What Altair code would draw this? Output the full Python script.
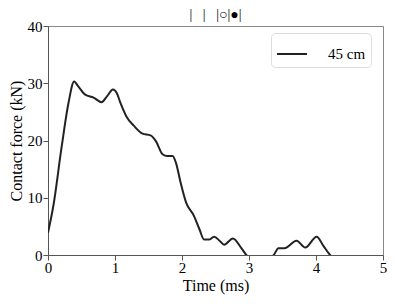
import altair as alt
import pandas as pd

time_ms = [0.0, 0.08, 0.205, 0.305, 0.39, 0.455, 0.555, 0.68, 0.8, 0.88, 0.97, 1.03, 1.08, 1.17,
           1.28, 1.41, 1.53, 1.61, 1.71, 1.78, 1.86, 1.91, 1.98, 2.06, 2.18, 2.26, 2.33, 2.41,
           2.48, 2.56, 2.63, 2.76, 2.88, 2.96, 3.15, 3.37, 3.44, 3.53, 3.71, 3.84, 4.01, 4.11,
           4.21, 4.4]
force_kn = [3.9, 8.6, 19.0, 26.5, 30.3, 29.4, 28.0, 27.5, 26.7, 27.7, 28.9, 28.2, 26.6, 24.2,
            22.6, 21.2, 20.9, 19.9, 17.6, 17.3, 17.3, 16.1, 12.6, 9.2, 6.8, 4.5, 2.7, 2.7,
            3.2, 2.5, 1.8, 2.9, 1.3, 0.0, -1.5, 0.0, 1.2, 1.2, 2.5, 1.3, 3.2, 1.6,
            0.0, -1.5]
series = ["45 cm"] * len(time_ms)

df = pd.DataFrame({"t": time_ms, "f": force_kn, "s": series})

FONT = "Liberation Serif"

chart = alt.Chart(df).mark_line(
    interpolate="monotone", clip=True, strokeWidth=2, color="#222222"
).encode(
    x=alt.X("t:Q", scale=alt.Scale(domain=[0, 5], nice=False),
            axis=alt.Axis(title="Time (ms)", values=[0, 1, 2, 3, 4, 5], format="d",
                          grid=False, labelFontSize=15, titleFontSize=16,
                          titleFontWeight="normal", labelColor="black", titleColor="black",
                          domainColor="#555555", tickColor="#555555", tickSize=5,
                          labelPadding=0, titlePadding=2, labelFont=FONT, titleFont=FONT,
                          labelFlush=False)),
    y=alt.Y("f:Q", scale=alt.Scale(domain=[0, 40], nice=False),
            axis=alt.Axis(title="Contact force (kN)", values=[0, 10, 20, 30, 40],
                          grid=False, labelFontSize=15, titleFontSize=16,
                          titleFontWeight="normal", labelColor="black", titleColor="black",
                          domainColor="#555555", tickColor="#555555", tickSize=5,
                          labelPadding=1, titlePadding=3, labelFont=FONT, titleFont=FONT,
                          labelFlush=False)),
    color=alt.Color("s:N", scale=alt.Scale(range=["#222222"]),
                    legend=alt.Legend(title=None, orient="none", legendX=223, legendY=7,
                                      symbolType="stroke", symbolStrokeWidth=2,
                                      symbolSize=900, labelFontSize=15, labelFont=FONT,
                                      labelColor="black", strokeColor="#dddddd",
                                      cornerRadius=4, padding=5, fillColor="white",
                                      labelOffset=20)),
).properties(
    width=379, height=288,
    autosize=alt.AutoSizeParams(type="fit", contains="padding"),
    padding={"left": 0, "top": 0, "right": 0, "bottom": 3},
    title=alt.Title("|\u00a0\u00a0\u00a0|\u00a0\u00a0\u00a0|○|●|", fontSize=14, font=FONT,
                    fontWeight="normal", color="black", offset=-3),
).configure_view(
    stroke="#888888", strokeWidth=1
)

chart.save("out.html", embed_options={"renderer": "svg", "actions": False})
